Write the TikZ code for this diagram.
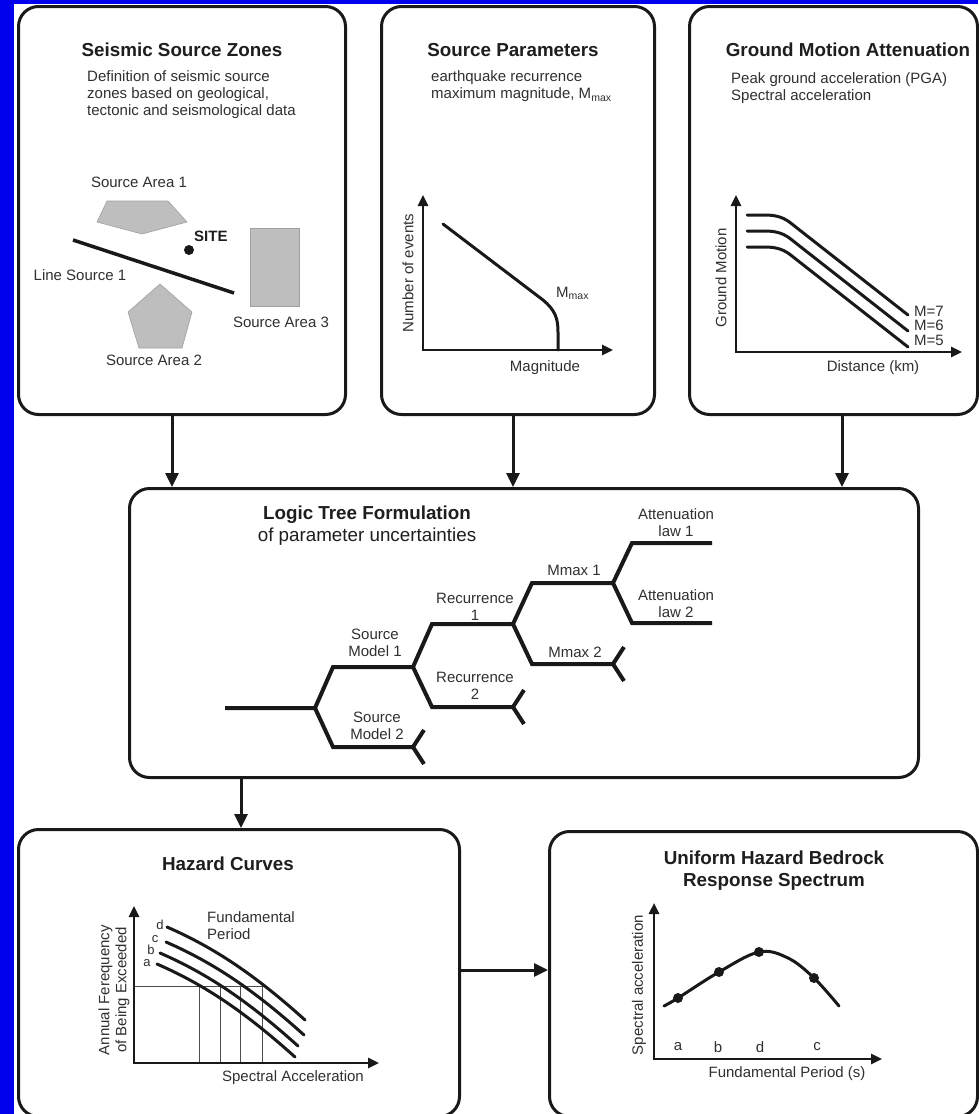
\documentclass[tikz,border=0pt]{standalone}
\usepackage{fontspec}
\setmainfont{Liberation Sans}
\usetikzlibrary{arrows.meta}
\definecolor{bgblue}{RGB}{0,0,236}
\definecolor{txt}{RGB}{48,48,48}
\definecolor{ttlc}{RGB}{30,30,30}
\definecolor{zone}{RGB}{190,190,190}
\definecolor{zoneline}{RGB}{160,160,160}
\tikzset{
  box/.style={draw=black!90, line width=3pt, rounded corners=20pt, fill=white, inner sep=0pt},
  ttl/.style={font=\fontsize{18.8}{22}\selectfont\bfseries, text=ttlc, align=center, inner sep=0pt},
  lbl/.style={font=\fontsize{15}{17}\selectfont, text=txt, inner sep=0pt},
  small/.style={font=\fontsize{13}{15}\selectfont, text=txt, inner sep=0pt},
  flow/.style={draw=black!90, line width=3pt, -{Triangle[length=14pt,width=13pt]}},
  axes/.style={draw=black!90, line width=2.5pt, line join=miter, {Triangle[length=11pt,width=10pt]}-{Triangle[length=11pt,width=10pt]}},
  curv/.style={draw=black!90, line width=3pt, line cap=round},
  branch/.style={draw=black!90, line width=4pt, line join=miter},
  thin/.style={draw=black!70, line width=1pt},
  zonefill/.style={fill=zone, draw=zoneline, line width=0.6pt},
  dot/.style={circle, fill=black!90, inner sep=0pt, minimum size=10pt}
}
\begin{document}
\begin{tikzpicture}[x=1pt,y=-1pt]
\useasboundingbox (0,0) rectangle (978,1114);
\fill[bgblue] (0,0) rectangle (978,1114);
\fill[white] (14,4) rectangle (978,1114);

% ---------- boxes ----------
\node[box, anchor=north west, minimum width=327pt, minimum height=408pt] (zones) at (17,5) {};
\node[box, anchor=north west, minimum width=273pt, minimum height=408pt] (params) at (380,5) {};
\node[box, anchor=north west, minimum width=288pt, minimum height=408pt] (gma) at (688,5) {};
\node[box, anchor=north west, minimum width=789pt, minimum height=289pt] (logic) at (128,487) {};
\node[box, anchor=north west, minimum width=441pt, minimum height=287pt] (hazard) at (17,828) {};
\node[box, anchor=north west, minimum width=428pt, minimum height=285pt] (uhs) at (548,830) {};

% ---------- connectors ----------
\coordinate (a1) at (172,0);
\coordinate (a2) at (513,0);
\coordinate (a3) at (842,0);
\coordinate (a4) at (241,0);
\coordinate (a5) at (0,970);
\draw[flow] (zones.south -| a1) -- (logic.north -| a1);
\draw[flow] (params.south -| a2) -- (logic.north -| a2);
\draw[flow] (gma.south -| a3) -- (logic.north -| a3);
\draw[flow] (logic.south -| a4) -- (hazard.north -| a4);
\draw[flow] (hazard.east |- a5) -- (uhs.west |- a5);

% ---------- Seismic Source Zones ----------
\node[ttl] (t1) at (182,50) {Seismic Source Zones};
\node[lbl, anchor=west, align=left] (d1) at (87,95) {Definition of seismic source\\zones based on geological,\\tectonic and seismological data};
\node[lbl] (sa1) at (139,182) {Source Area 1};
\filldraw[zonefill] (97,222) -- (107,201) -- (168,201) -- (187,222) -- (142,234) -- cycle;
\draw[draw=black!90, line width=3.5pt] (73,240) -- (234,293);
\node[dot] (site) at (189,250) {};
\node[lbl, anchor=west, font=\fontsize{15}{17}\selectfont\bfseries, text=ttlc] (sitel) at (194,236) {SITE};
\node[lbl] (ls1) at (80,275) {Line Source 1};
\filldraw[zonefill] (160,284) -- (192,312) -- (182,348) -- (139,348) -- (128,312) -- cycle;
\filldraw[zonefill] (250,228) rectangle (299,306);
\node[lbl] (sa3) at (281,322) {Source Area 3};
\node[lbl] (sa2) at (154,360) {Source Area 2};

% ---------- Source Parameters ----------
\node[ttl] (t2) at (513,50) {Source Parameters};
\node[lbl, anchor=west, align=left] (d2) at (431,86.5) {earthquake recurrence\\maximum magnitude, M\textsubscript{max}};
\draw[axes] (423,195) -- (423,350) -- (613,350);
\draw[curv] (443,224) -- (543,300) .. controls (555,310) and (558,318) .. (558,332) -- (558,350);
\node[lbl, rotate=90] (ne) at (408,273) {Number of events};
\node[lbl, anchor=west] (mmax) at (556,293) {M\textsubscript{max}};
\node[lbl] (mag) at (545,368) {Magnitude};

% ---------- Ground Motion Attenuation ----------
\node[ttl] (t3) at (848,50) {Ground Motion Attenuation};
\node[lbl, anchor=west, align=left] (d3) at (731,88) {Peak ground acceleration (PGA)\\Spectral acceleration};
\draw[axes] (736,195) -- (736,352) -- (962,352);
\foreach \d in {0,16,32} {
  \draw[curv] (747,{215+\d}) -- (764,{215+\d}) .. controls (782,{215+\d}) and (787,{220+\d}) .. (797,{228+\d}) -- (908,{315+\d});
}
\node[lbl, anchor=west] (m7) at (914,311) {M=7};
\node[lbl, anchor=west] (m6) at (914,325.5) {M=6};
\node[lbl, anchor=west] (m5) at (914,340) {M=5};
\node[lbl, rotate=90] (gm) at (721,278) {Ground Motion};
\node[lbl] (dist) at (873,368) {Distance (km)};

% ---------- Logic Tree ----------
\node[ttl, font=\fontsize{18.8}{22}\selectfont] (t4) at (367,526) {\textbf{Logic Tree Formulation}\\of parameter uncertainties};
\draw[branch] (225,708) -- (315,708) -- (333,667) -- (413,667) -- (432,624) -- (513,624) -- (532,583) -- (613,583) -- (632,543) -- (712,543);
\draw[branch] (315,708) -- (333,747) -- (413,747) -- (424,730);
\draw[branch] (413,747) -- (424,764);
\draw[branch] (413,667) -- (432,707) -- (513,707) -- (524,690);
\draw[branch] (513,707) -- (524,724);
\draw[branch] (513,624) -- (532,664) -- (613,664) -- (624,647);
\draw[branch] (613,664) -- (624,681);
\draw[branch] (613,583) -- (632,623) -- (712,623);
\node[lbl, align=center] (sm1) at (375,643) {Source\\Model 1};
\node[lbl, align=center] (sm2) at (377,726) {Source\\Model 2};
\node[lbl, align=center] (rc1) at (475,607) {Recurrence\\1};
\node[lbl, align=center] (rc2) at (475,686) {Recurrence\\2};
\node[lbl] (mx1) at (574,570) {Mmax 1};
\node[lbl] (mx2) at (575,652) {Mmax 2};
\node[lbl, align=center] (al1) at (676,523) {Attenuation\\law 1};
\node[lbl, align=center] (al2) at (676,604) {Attenuation\\law 2};

% ---------- Hazard Curves ----------
\node[ttl] (t5) at (228,864) {Hazard Curves};
\draw[thin] (134,986) -- (262,986);
\foreach \vx in {199,220,240,262} { \draw[thin] (\vx,986) -- (\vx,1063); }
\draw[axes] (134,906) -- (134,1063) -- (379,1063);
\foreach \sx/\sy in {167/927,166/942,160/953,157/964} {
  \draw[curv] (\sx,\sy) .. controls ({\sx+48},{\sy+21}) and ({\sx+88},{\sy+48}) .. ({\sx+138},{\sy+93});
}
\node[small] (hd) at (160,925) {d};
\node[small] (hc) at (155,939) {c};
\node[small] (hb) at (151,950) {b};
\node[small] (ha) at (147,963) {a};
\node[lbl, anchor=west, align=left] (fp) at (207,925.5) {Fundamental\\Period};
\node[lbl, rotate=90, align=center] (afe) at (114,990) {Annual Ferequency\\of Being Exceeded};
\node[lbl] (sacc) at (293,1078) {Spectral Acceleration};

% ---------- Uniform Hazard ----------
\node[ttl] (t6) at (774,871) {Uniform Hazard Bedrock\\Response Spectrum};
\draw[axes] (654,903) -- (654,1059) -- (882,1059);
\draw[curv] plot[smooth, tension=0.6] coordinates {(664,1006) (678,998) (719,972) (759,952) (788,958) (814,978) (839,1006)};
\node[dot] (pa) at (678,998) {};
\node[dot] (pb) at (719,972) {};
\node[dot] (pd) at (759,952) {};
\node[dot] (pc) at (814,978) {};
\node[lbl] (la) at (678,1047) {a};
\node[lbl] (lb) at (718,1047) {b};
\node[lbl] (ld) at (760,1047) {d};
\node[lbl] (lc) at (817,1047) {c};
\node[lbl, rotate=90] (sa) at (639,985) {Spectral acceleration};
\node[lbl] (fps) at (787,1074) {Fundamental Period (s)};
\end{tikzpicture}
\end{document}
